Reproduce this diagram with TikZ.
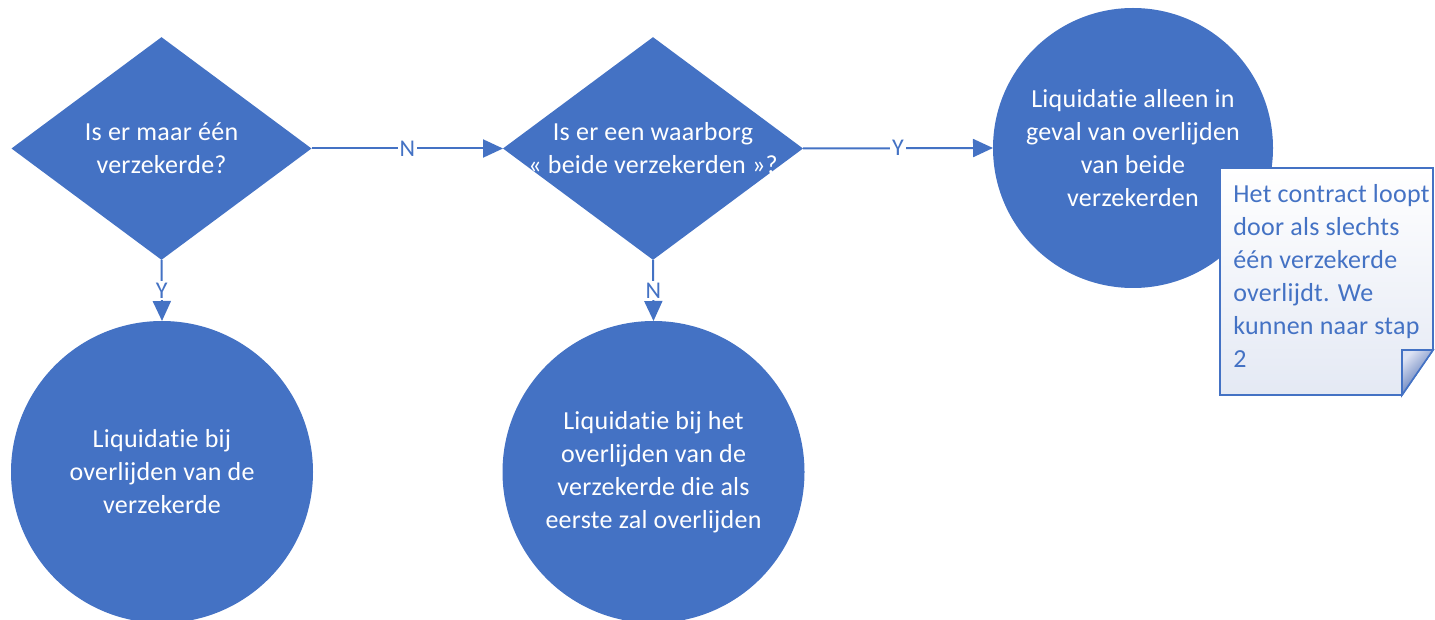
\documentclass[tikz,border=0pt]{standalone}
\usepackage{fontspec}
\setmainfont{Carlito}[LetterSpace=1.0, Ligatures=NoCommon]
\usetikzlibrary{positioning,arrows.meta,shapes.geometric,calc}
\definecolor{FlowBlue}{RGB}{68,114,196}
\definecolor{NoteShade}{RGB}{228,233,244}
\definecolor{FoldLight}{RGB}{220,226,243}
\definecolor{FoldDark}{RGB}{58,92,168}

\begin{document}
\begin{tikzpicture}[
    x=0.75pt, y=-0.75pt,
    font=\fontsize{19.5pt}{24.75pt}\selectfont,
    flowarrow/.style={-{Triangle[length=15pt,width=13.5pt]}, line width=1.5pt, draw=FlowBlue},
    edgelabel/.style={midway, fill=white, inner sep=1.5pt, text=FlowBlue,
        font=\fontsize{18pt}{19pt}\selectfont},
    decision/.style={
        diamond,
        fill=FlowBlue,
        draw=none,
        inner sep=0pt,
        outer sep=0pt,
        minimum width=225pt,
        minimum height=167pt
    },
    qtext/.style={text=white, align=center},
    outcome/.style={
        circle,
        fill=FlowBlue,
        draw=none,
        inner sep=0pt,
        outer sep=0pt,
        text=white,
        align=center,
        minimum size=226.5pt
    },
    notebox/.style={draw=FlowBlue, line width=1.2pt, line join=miter,
        top color=white, bottom color=NoteShade},
    notefold/.style={draw=FlowBlue, line width=1.2pt,
        top color=FoldLight, bottom color=FoldDark, shading angle=45},
    notetext/.style={text=FlowBlue, align=left, inner xsep=9.75pt}
]
\useasboundingbox (0,0) rectangle (1435,620);

% First question: one insured person or two.
\node[decision] (single) at (161.5,148.5) {};
\node[qtext] (singlelabel) at (single) {Is er maar één\\verzekerde?};

% Second question: is there a cover on both insured persons.
\node[decision] (both) at (653,148.5) {};
\node[qtext] (bothlabel) at (both) {Is er een waarborg\\« beide verzekerden »?};

% Outcomes of the two questions.
\node[outcome] (payone) at (162,472) {Liquidatie bij\\overlijden van de\\verzekerde};
\node[outcome] (payfirst) at (653.5,472) {Liquidatie bij het\\overlijden van de\\verzekerde die als\\eerste zal overlijden};
\node[outcome, minimum size=210pt] (payboth) at (1133,148) {Liquidatie alleen in\\geval van overlijden\\van beide\\verzekerden};

% Sticky note with folded corner, drawn over the last outcome.
\coordinate (notetl) at (1220,168);
\coordinate (notebr) at (1433,395);
\draw[notebox] (notetl) -- (notetl -| notebr) -- ($(notebr)+(0,-45)$)
    -- ($(notebr)+(-31,0)$) -- (notetl |- notebr) -- cycle;
\draw[notefold] ($(notebr)+(-31,-45)$) -- ($(notebr)+(0,-45)$)
    -- ($(notebr)+(-31,0)$) -- cycle;
\node[notetext, anchor=west] (note) at (1220,276) {Het contract loopt\\door als slechts\\één verzekerde\\overlijdt. We\\kunnen naar stap\\2};

% Yes / no branches.
\draw[flowarrow] (single.east) -- node[edgelabel] {N} (both.west);
\draw[flowarrow] (single.south) -- node[edgelabel] {Y} (payone.north);
\draw[flowarrow] (both.east) -- node[edgelabel] {Y} (payboth.west);
\draw[flowarrow] (both.south) -- node[edgelabel] {N} (payfirst.north);

\end{tikzpicture}
\end{document}
